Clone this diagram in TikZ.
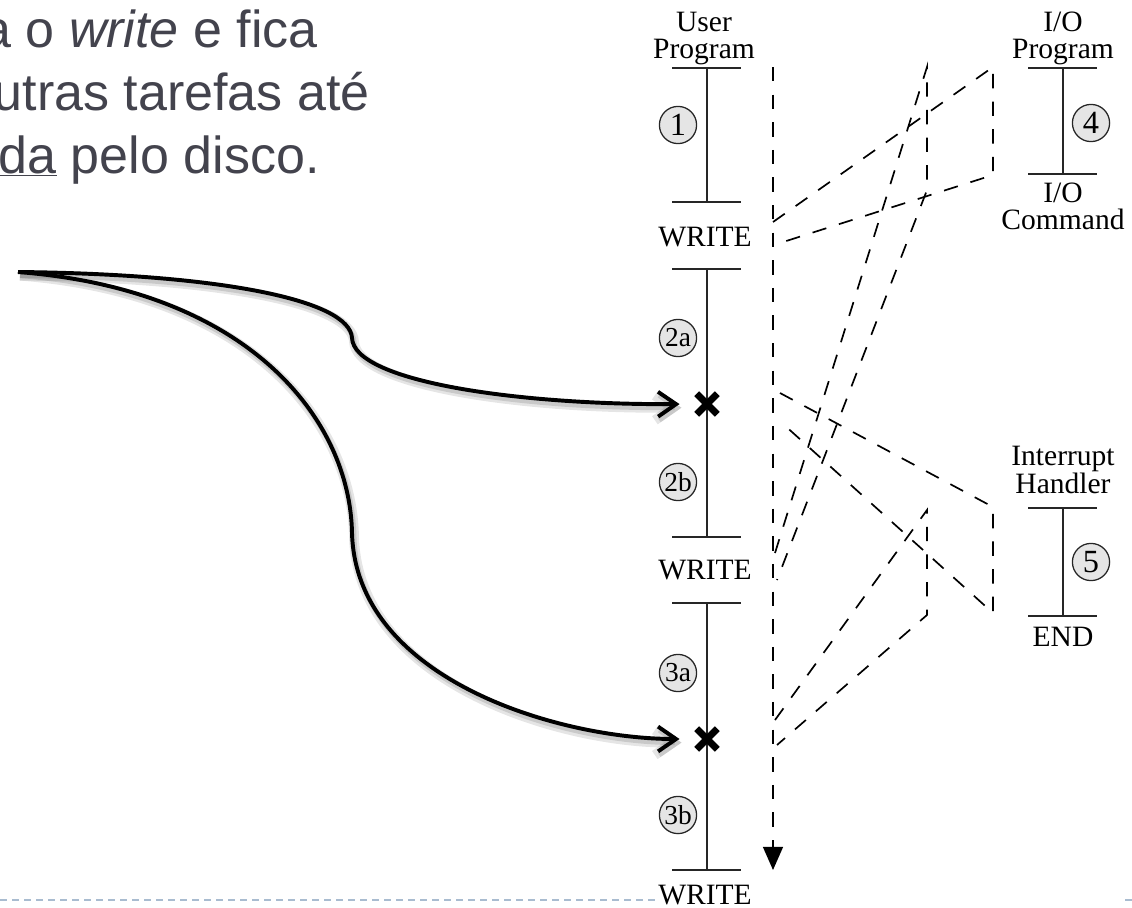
\documentclass[tikz,border=0pt]{standalone}
\usepackage{fontspec}
\setmainfont{Liberation Serif}
\newfontfamily\slidefont{Liberation Sans}
\usetikzlibrary{arrows.meta}
\definecolor{slidetext}{HTML}{43434D}
\definecolor{rulerblue}{HTML}{A9BCD0}
\tikzstyle{bar}=[line width=1.3pt, draw=black!85]
\tikzstyle{heading}=[align=center, inner sep=1pt, font=\fontsize{21}{19.5}\selectfont]
\tikzstyle{phase}=[circle, draw=black!85, fill=black!10, line width=0.9pt, minimum size=0.93cm, inner sep=0, font=\fontsize{23}{23}\selectfont]
\tikzstyle{subphase}=[phase, font=\fontsize{19.5}{19.5}\selectfont]
\tikzstyle{flow}=[line width=1.2pt, dash pattern=on 0.36cm off 0.33cm]
\tikzstyle{intr}=[minimum size=0.5cm, inner sep=0]
\tikzstyle{xmark}=[line width=4.8pt]
\tikzstyle{pointer}=[line width=2.8pt, -{Straight Barb[length=0.45cm, width=0.62cm]},
  preaction={draw=black, opacity=0.1, line width=7pt, transform canvas={shift={(0.05cm,-0.09cm)}}},
  preaction={draw=black, opacity=0.12, line width=3.5pt, transform canvas={shift={(0.05cm,-0.09cm)}}}]
\tikzstyle{slide}=[inner sep=0, text=slidetext, font=\slidefont\fontsize{37}{42}\selectfont]
\tikzstyle{ruler}=[draw=rulerblue, line width=2pt, dash pattern=on 0.18cm off 0.12cm]

\begin{document}
\begin{tikzpicture}[x=0.025cm, y=-0.025cm]
  \useasboundingbox (0,0) rectangle (1132,908);

  % slide text
  \node[slide, anchor=base east] (txt1) at (318,47) {a o \textit{write} e fica};
  \node[slide, anchor=base east] (txt2) at (370,110) {utras tarefas até};
  \node[slide, anchor=base east] (txt3) at (320,173) {\underline{da} pelo disco.};
  \draw[ruler] (0,900) -- (655,900);
  \draw[ruler] (1125,900) -- (1132,900);

  % user program
  \foreach \y in {68,202,269,537,603,870}
    \draw[bar] (672,\y) -- (741,\y);
  \draw[bar] (707,68) -- (707,202);
  \draw[bar] (707,269) -- (707,537);
  \draw[bar] (707,603) -- (707,870);
  \node[heading, anchor=south] (user) at (704,67) {User\\Program};
  \node[heading] (write1) at (705,237) {WRITE};
  \node[heading] (write2) at (705,570) {WRITE};
  \node[heading] (write3) at (705,895) {WRITE};
  \node[phase] (p1) at (678,125) {1};
  \node[subphase] (p2a) at (678,338) {2a};
  \node[subphase] (p2b) at (678,482) {2b};
  \node[subphase] (p3a) at (678,673) {3a};
  \node[subphase] (p3b) at (678,815) {3b};

  % interrupt points
  \node[intr] (int1) at (707,404) {};
  \node[intr] (int2) at (707,739) {};
  \foreach \n in {int1,int2}
    \draw[xmark] (\n.south west) -- (\n.north east) (\n.north west) -- (\n.south east);

  % I/O program
  \foreach \y in {68,174}
    \draw[bar] (1028,\y) -- (1097,\y);
  \draw[bar] (1063,68) -- (1063,174);
  \node[heading, anchor=south] (io) at (1063,67) {I/O\\Program};
  \node[heading, anchor=north] (iocmd) at (1063,181) {I/O\\Command};
  \node[phase] (p4) at (1091,123) {4};

  % interrupt handler
  \foreach \y in {508,616}
    \draw[bar] (1028,\y) -- (1097,\y);
  \draw[bar] (1063,508) -- (1063,616);
  \node[heading, anchor=south] (handler) at (1063,495) {Interrupt\\Handler};
  \node[heading] (hend) at (1063,637) {END};
  \node[phase] (p5) at (1091,562) {5};

  % control flow
  \coordinate (ustart) at (773,67);
  \coordinate (uend) at (773,870);
  \draw[flow, -{Triangle[length=0.58cm, width=0.5cm]}] (ustart) -- (uend);

  \coordinate (w1) at (773,222);
  \coordinate (r1) at (780,243);
  \coordinate (q1) at (780,393);
  \coordinate (q2) at (782,423);
  \coordinate (w2) at (775,553);
  \coordinate (r2) at (777,580);
  \coordinate (q3) at (775,720);
  \coordinate (q4) at (777,745);
  \coordinate (ioa) at (993,67);
  \coordinate (iob) at (993,175);
  \coordinate (ioc) at (927,67);
  \coordinate (iod) at (927,190);
  \coordinate (ha) at (993,507);
  \coordinate (hb) at (993,613);
  \coordinate (hc) at (927,510);
  \coordinate (hd) at (927,615);

  \draw[flow] (w1) -- (ioa) -- (iob) -- (r1);
  \draw[flow] (q1) -- (ha) -- (hb) -- (q2);
  \draw[flow] (w2) -- (ioc) -- (iod) -- (r2);
  \draw[flow] (q3) -- (hc) -- (hd) -- (q4);

  % pointers
  \coordinate (src) at (18,272);
  \draw[pointer, shorten >=0.43cm] (src) .. controls (220,274) and (350,300) .. (352,338)
    .. controls (354,382) and (520,405) .. (int1.west);
  \draw[pointer, shorten >=0.43cm] (src) .. controls (250,290) and (350,420) .. (352,533)
    .. controls (356,680) and (560,739) .. (int2.west);
\end{tikzpicture}
\end{document}
